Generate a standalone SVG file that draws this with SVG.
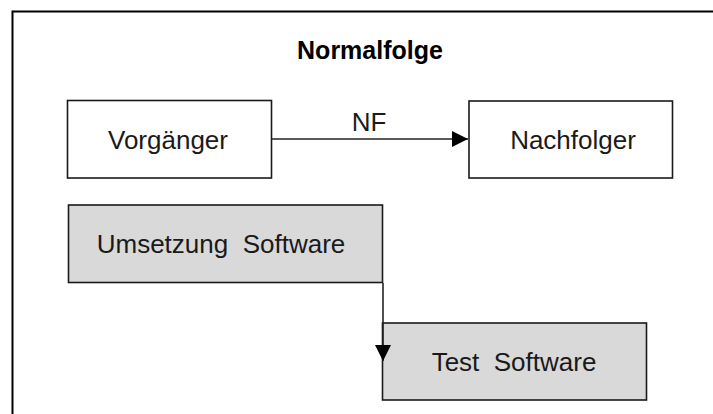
<svg xmlns="http://www.w3.org/2000/svg" width="713" height="414" viewBox="0 0 713 414">
<defs>
<style>
.box{stroke:#1a1a1a;stroke-width:1.6}
.w{fill:#ffffff}
.g{fill:#d9d9d9}
.lbl{font-family:"Liberation Sans",Arial,sans-serif;font-size:26px;fill:#1a1a1a;text-anchor:middle}
.title{font-family:"Liberation Sans",Arial,sans-serif;font-size:25px;font-weight:bold;fill:#000;text-anchor:middle}
.conn{stroke:#222;stroke-width:1.6;fill:none}
</style>
<marker id="ah" viewBox="0 0 16 16" refX="16" refY="8" markerWidth="16" markerHeight="16" markerUnits="userSpaceOnUse" orient="auto">
<path d="M0,0 L16,8 L0,16 Z" fill="#000"/>
</marker>
</defs>
<rect width="713" height="414" fill="#fff"/>
<path d="M12.5,414 V11.5 H713" fill="none" stroke="#000" stroke-width="2"/>
<text class="title" x="370" y="59">Normalfolge</text>
<g id="vorgaenger">
<rect class="box w" x="67.5" y="100.5" width="204" height="77.5"/>
<text class="lbl" x="168" y="148.5">Vorgänger</text>
</g>
<g id="nachfolger">
<rect class="box w" x="469" y="101" width="203.5" height="77"/>
<text class="lbl" x="573" y="148.5">Nachfolger</text>
</g>
<g id="umsetzung">
<rect class="box g" x="68.5" y="205" width="314" height="77.5"/>
<text class="lbl" x="221" y="253" xml:space="preserve">Umsetzung  Software</text>
</g>
<g id="test">
<rect class="box g" x="382.5" y="323" width="264" height="77"/>
<text class="lbl" x="514" y="371" xml:space="preserve">Test  Software</text>
</g>
<g id="connectors">
<line class="conn" x1="272" y1="139" x2="468" y2="139" marker-end="url(#ah)"/>
<text class="lbl" x="369" y="131">NF</text>
<line class="conn" x1="383" y1="283" x2="383" y2="361" marker-end="url(#ah)"/>
</g>
</svg>
